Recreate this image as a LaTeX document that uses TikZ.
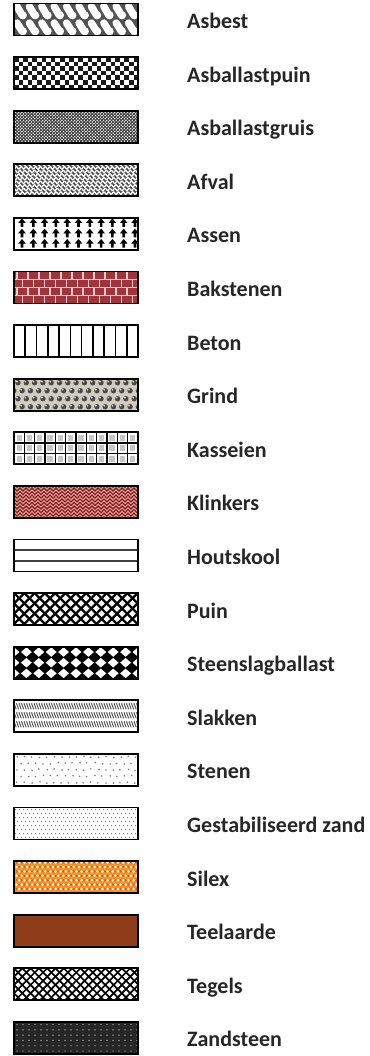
\documentclass[tikz,border=0pt]{standalone}
\usepackage{fontspec}
\setmainfont{Carlito}
\definecolor{brick}{RGB}{160,52,58}
\definecolor{mortar}{RGB}{248,200,200}
\definecolor{gravelbg}{RGB}{210,204,190}
\definecolor{klinkbg}{RGB}{226,150,140}
\definecolor{klinkln}{RGB}{125,30,35}
\definecolor{silexbg}{RGB}{240,145,45}
\definecolor{silexlt}{RGB}{255,240,175}
\definecolor{silexrd}{RGB}{225,80,25}
\definecolor{earth}{RGB}{142,60,25}
\begin{document}
\begin{tikzpicture}[x=1pt,y=-1pt,
  swatch/.style={draw=black, line width=1.9pt, minimum width=124pt, minimum height=32pt, inner sep=0pt, outer sep=0pt, anchor=north west},
  lbl/.style={anchor=base west, inner sep=0pt, font=\fontsize{22}{26}\selectfont\bfseries, text=black!85}]
\useasboundingbox (0,0) rectangle (369,1056);

% 1 Asbest
\begin{scope}[shift={(14,3.5)}]
\clip (0,0) rectangle (124,32);
\fill[black!68] (0,0) rectangle (124,32);
\foreach \k in {-1,...,10}{
  \draw[white, line width=7.4pt, line cap=round] ({\k*12.4+3},3) -- ({\k*12.4+8},11.5);
  \fill[white] ({\k*12.4+8.8},11.8) circle (4.1);
  \draw[white, line width=7.4pt, line cap=round] ({\k*12.4+3},19.5) -- ({\k*12.4+8},27.5);
  \fill[white] ({\k*12.4+8.8},27.8) circle (4.1);
}
\end{scope}
\node[swatch] (s1) at (14,3.5) {};
\node[lbl] (t1) at (187,28.5) {Asbest};

% 2 Asballastpuin
\begin{scope}[shift={(14,57.1)}]
\clip (0,0) rectangle (124,32);
\fill[white] (0,0) rectangle (124,32);
\foreach \j in {0,...,6}{\foreach \i in {0,...,13}{
  \fill[black!90] ({(2*\i+mod(\j,2))*4.6},{\j*4.6}) rectangle ++(4.6,4.6);}}
\end{scope}
\node[swatch] (s2) at (14,57.1) {};
\node[lbl] (t2) at (187,82.1) {Asballastpuin};

% 3 Asballastgruis
\begin{scope}[shift={(14,110.7)}]
\clip (0,0) rectangle (124,32);
\fill[black!78] (0,0) rectangle (124,32);
\foreach \j in {0,...,20}{\foreach \i in {0,...,39}{
  \fill[white] ({\i*3.2+mod(\j,2)*1.6},{\j*1.6}) circle (0.8);}}
\end{scope}
\node[swatch] (s3) at (14,110.7) {};
\node[lbl] (t3) at (187,135.7) {Asballastgruis};

% 4 Afval
\begin{scope}[shift={(14,164.3)}]
\clip (0,0) rectangle (124,32);
\fill[black!70] (0,0) rectangle (124,32);
\foreach \j in {0,...,9}{
  \draw[white, line width=1.3pt] plot[domain=0:124, samples=120] (\x,{\j*3.6+1.3*sin(\x*75+\j*90)});}
\end{scope}
\node[swatch] (s4) at (14,164.3) {};
\node[lbl] (t4) at (187,189.3) {Afval};

% 5 Assen
\begin{scope}[shift={(14,217.9)}]
\clip (0,0) rectangle (124,32);
\fill[white] (0,0) rectangle (124,32);
\foreach \r in {0,1,2}{\foreach \k in {0,...,10}{
  \fill[black] ({8+11.3*\k},{0.5+10.3*\r}) -- ++(3.8,4.6) -- ++(-2.5,0) -- ++(0,4) -- ++(-2.6,0) -- ++(0,-4) -- ++(-2.5,0) -- cycle;}}
\end{scope}
\node[swatch] (s5) at (14,217.9) {};
\node[lbl] (t5) at (187,242.9) {Assen};

% 6 Bakstenen
\begin{scope}[shift={(14,271.5)}]
\clip (0,0) rectangle (124,32);
\fill[brick] (0,0) rectangle (124,32);
\foreach \y in {8,16,24}{\draw[mortar, line width=1.1pt] (0,\y) -- (124,\y);}
\foreach \r in {0,...,3}{\foreach \k in {0,...,11}{
  \draw[mortar, line width=1.1pt] ({\k*11+mod(\r,2)*5.5+3},{\r*8}) -- ++(0,8);}}
\end{scope}
\node[swatch] (s6) at (14,271.5) {};
\node[lbl] (t6) at (187,296.5) {Bakstenen};

% 7 Beton
\begin{scope}[shift={(14,325.1)}]
\clip (0,0) rectangle (124,32);
\fill[white] (0,0) rectangle (124,32);
\foreach \k in {1,...,10}{\draw[black, line width=1.6pt] ({\k*11.27},0) -- ({\k*11.27},32);}
\end{scope}
\node[swatch] (s7) at (14,325.1) {};
\node[lbl] (t7) at (187,350.1) {Beton};

% 8 Grind
\begin{scope}[shift={(14,378.7)}]
\clip (0,0) rectangle (124,32);
\fill[gravelbg] (0,0) rectangle (124,32);
\foreach \r in {0,...,3}{\foreach \k in {-1,...,15}{
  \fill[black!72] ({\k*8.3+mod(\r,2)*4.15+4},{\r*8+4}) circle (2.7);
  \fill[white] ({\k*8.3+mod(\r,2)*4.15+3},{\r*8+3}) circle (0.9);}}
\end{scope}
\node[swatch] (s8) at (14,378.7) {};
\node[lbl] (t8) at (187,403.7) {Grind};

% 9 Kasseien
\begin{scope}[shift={(14,432.3)}]
\clip (0,0) rectangle (124,32);
\fill[white] (0,0) rectangle (124,32);
\foreach \i in {0,...,11}{\foreach \j in {0,1,2}{
  \fill[black!22] ({\i*10.33+2.5},{\j*10.67+2.5}) rectangle ++(5.3,5.7);}}
\foreach \k in {1,...,11}{\draw[black, line width=1.5pt] ({\k*10.33},0) -- ++(0,32);}
\foreach \y in {10.67,21.33}{\draw[black, line width=1.5pt] (0,\y) -- (124,\y);}
\end{scope}
\node[swatch] (s9) at (14,432.3) {};
\node[lbl] (t9) at (187,457.3) {Kasseien};

% 10 Klinkers
\begin{scope}[shift={(14,485.9)}]
\clip (0,0) rectangle (124,32);
\fill[klinkbg] (0,0) rectangle (124,32);
\foreach \j in {0,...,9}{
  \draw[klinkln, line width=1.1pt] (0,{\j*3.6}) \foreach \i in {0,...,42}{ -- ({\i*3},{\j*3.6+1.5*(2*mod(\i,2)-1)}) };}
\end{scope}
\node[swatch] (s10) at (14,485.9) {};
\node[lbl] (t10) at (187,510.9) {Klinkers};

% 11 Houtskool
\begin{scope}[shift={(14,539.5)}]
\clip (0,0) rectangle (124,32);
\fill[white] (0,0) rectangle (124,32);
\foreach \y in {10.67,21.33}{\draw[black!75, line width=1.4pt] (0,\y) -- (124,\y);}
\end{scope}
\node[swatch] (s11) at (14,539.5) {};
\node[lbl] (t11) at (187,564.5) {Houtskool};

% 12 Puin
\begin{scope}[shift={(14,593.1)}]
\clip (0,0) rectangle (124,32);
\fill[white] (0,0) rectangle (124,32);
\foreach \k in {-4,...,16}{
  \draw[black, line width=2.3pt] ({\k*10.3},0) -- ++(32,32);
  \draw[black, line width=2.3pt] ({\k*10.3},0) -- ++(-32,32);}
\end{scope}
\node[swatch] (s12) at (14,593.1) {};
\node[lbl] (t12) at (187,618.1) {Puin};

% 13 Steenslagballast
\begin{scope}[shift={(14,646.7)}]
\clip (0,0) rectangle (124,32);
\fill[white] (0,0) rectangle (124,32);
\foreach \r in {0,...,3}{\foreach \k in {0,...,10}{
  \fill[black] ({\k*12.4+6.2},{\r*10.67-5.8}) -- ++(6.6,5.8) -- ++(-6.6,5.8) -- ++(-6.6,-5.8) -- cycle;}}
\end{scope}
\node[swatch] (s13) at (14,646.7) {};
\node[lbl] (t13) at (187,671.7) {Steenslagballast};

% 14 Slakken
\begin{scope}[shift={(14,700.3)}]
\clip (0,0) rectangle (124,32);
\fill[white] (0,0) rectangle (124,32);
\foreach \t in {3,12,21}{\foreach \k in {-2,...,52}{
  \draw[black!65, line width=1pt] ({\k*2.5},\t) -- ++(2.2,6);}}
\end{scope}
\node[swatch] (s14) at (14,700.3) {};
\node[lbl] (t14) at (187,725.3) {Slakken};

% 15 Stenen
\begin{scope}[shift={(14,753.9)}]
\clip (0,0) rectangle (124,32);
\fill[white] (0,0) rectangle (124,32);
\pgfmathsetseed{11}
\foreach \r in {0,...,4}{\foreach \k in {0,...,16}{
  \fill[black!50] ({\k*7.4+mod(\r,2)*3.7+3+0.8*rand},{\r*6.4+3+0.8*rand}) circle (0.9);}}
\end{scope}
\node[swatch] (s15) at (14,753.9) {};
\node[lbl] (t15) at (187,778.9) {Stenen};

% 16 Gestabiliseerd zand
\begin{scope}[shift={(14,807.5)}]
\clip (0,0) rectangle (124,32);
\fill[white] (0,0) rectangle (124,32);
\foreach \r in {0,...,7}{\foreach \k in {0,...,30}{
  \fill[black!45] ({\k*4+mod(\r,2)*2+1.5},{\r*4+2}) circle (0.75);}}
\end{scope}
\node[swatch] (s16) at (14,807.5) {};
\node[lbl] (t16) at (187,832.5) {Gestabiliseerd zand};

% 17 Silex
\begin{scope}[shift={(14,861.1)}]
\clip (0,0) rectangle (124,32);
\fill[silexbg] (0,0) rectangle (124,32);
\foreach \r in {0,...,7}{\foreach \k in {0,...,24}{
  \fill[silexlt] ({\k*5.2+mod(\r,2)*2.6},{\r*4.4+1.5}) circle (1.5);
  \fill[silexrd] ({\k*5.2+mod(\r+1,2)*2.6},{\r*4.4+1.5}) circle (1.1);}}
\end{scope}
\node[swatch] (s17) at (14,861.1) {};
\node[lbl] (t17) at (187,886.1) {Silex};

% 18 Teelaarde
\fill[earth] (14,914.7) rectangle ++(124,32);
\node[swatch] (s18) at (14,914.7) {};
\node[lbl] (t18) at (187,939.7) {Teelaarde};

% 19 Tegels
\begin{scope}[shift={(14,968.3)}]
\clip (0,0) rectangle (124,32);
\fill[white] (0,0) rectangle (124,32);
\foreach \k in {-5,...,20}{
  \draw[black, line width=1.7pt] ({\k*8.3},0) -- ++(32,32);
  \draw[black, line width=1.7pt] ({\k*8.3},0) -- ++(-32,32);}
\end{scope}
\node[swatch] (s19) at (14,968.3) {};
\node[lbl] (t19) at (187,993.3) {Tegels};

% 20 Zandsteen
\begin{scope}[shift={(14,1021.9)}]
\clip (0,0) rectangle (124,32);
\fill[black!85] (0,0) rectangle (124,32);
\foreach \r in {0,...,5}{\foreach \k in {0,...,20}{
  \fill[white!75!black] ({\k*6+3},{\r*5.3+2.6}) circle (0.7);}}
\end{scope}
\node[swatch] (s20) at (14,1021.9) {};
\node[lbl] (t20) at (187,1046.9) {Zandsteen};
\end{tikzpicture}
\end{document}
